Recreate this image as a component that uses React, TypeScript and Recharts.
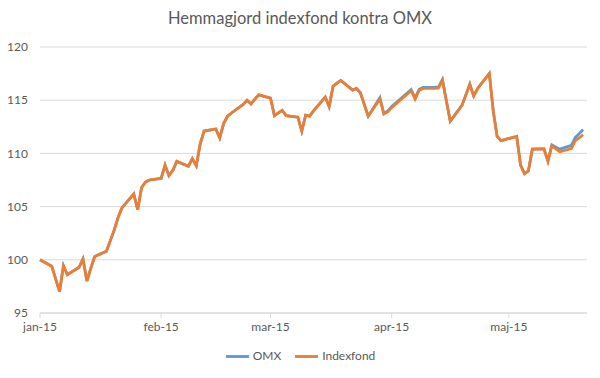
import { CartesianGrid, Legend, Line, LineChart, XAxis, YAxis } from 'recharts';

// Trading days
const dates = [
  '2015-01-02', '2015-01-05', '2015-01-07', '2015-01-08', '2015-01-09', '2015-01-12', '2015-01-13', '2015-01-14',
  '2015-01-15', '2015-01-16', '2015-01-19', '2015-01-20', '2015-01-21', '2015-01-22', '2015-01-23', '2015-01-26',
  '2015-01-27', '2015-01-28', '2015-01-29', '2015-01-30', '2015-02-02', '2015-02-03', '2015-02-04', '2015-02-05',
  '2015-02-06', '2015-02-09', '2015-02-10', '2015-02-11', '2015-02-12', '2015-02-13', '2015-02-16', '2015-02-17',
  '2015-02-18', '2015-02-19', '2015-02-20', '2015-02-23', '2015-02-24', '2015-02-25', '2015-02-26', '2015-02-27',
  '2015-03-02', '2015-03-03', '2015-03-04', '2015-03-05', '2015-03-06', '2015-03-09', '2015-03-10', '2015-03-11',
  '2015-03-12', '2015-03-13', '2015-03-16', '2015-03-17', '2015-03-18', '2015-03-19', '2015-03-20', '2015-03-23',
  '2015-03-24', '2015-03-25', '2015-03-26', '2015-03-27', '2015-03-30', '2015-03-31', '2015-04-01', '2015-04-02',
  '2015-04-07', '2015-04-08', '2015-04-09', '2015-04-10', '2015-04-13', '2015-04-14', '2015-04-15', '2015-04-16',
  '2015-04-17', '2015-04-20', '2015-04-21', '2015-04-22', '2015-04-23', '2015-04-24', '2015-04-27', '2015-04-28',
  '2015-04-29', '2015-04-30', '2015-05-04', '2015-05-05', '2015-05-06', '2015-05-07', '2015-05-08', '2015-05-11',
  '2015-05-12', '2015-05-13', '2015-05-15', '2015-05-18', '2015-05-19', '2015-05-20', '2015-05-21',
];

const omx = [
  100.0, 99.4, 97.0, 99.45, 98.6, 99.3, 100.1, 98.0,
  99.2, 100.3, 100.8, 101.8, 102.8, 104.0, 104.9, 106.2,
  104.7, 106.8, 107.3, 107.5, 107.65, 108.9, 107.9, 108.4,
  109.25, 108.8, 109.5, 108.85, 110.9, 112.1, 112.3, 111.45,
  112.8, 113.5, 113.8, 114.6, 115.0, 114.65, 115.1, 115.5,
  115.2, 113.55, 113.8, 114.05, 113.55, 113.4, 112.1, 113.6,
  113.5, 114.0, 115.3, 114.4, 116.3, 116.6, 116.85, 115.95,
  116.1, 115.7, 114.6, 113.5, 115.25, 113.75, 114.0, 114.4,
  116.0, 115.2, 116.0, 116.2, 116.2, 116.25, 116.95, 115.0,
  113.05, 114.55, 115.5, 116.5, 115.4, 116.1, 117.5, 114.0,
  111.6, 111.2, 111.6, 108.9, 108.1, 108.35, 110.4, 110.45,
  109.3, 110.8, 110.4, 110.75, 111.5, 111.85, 112.25,
];

const indexfond = [
  100.0, 99.4, 97.0, 99.45, 98.6, 99.3, 100.1, 98.0,
  99.2, 100.3, 100.8, 101.8, 102.8, 104.0, 104.9, 106.2,
  104.7, 106.8, 107.3, 107.5, 107.65, 108.9, 107.9, 108.4,
  109.25, 108.8, 109.5, 108.85, 110.9, 112.1, 112.3, 111.45,
  112.8, 113.5, 113.8, 114.6, 115.0, 114.65, 115.1, 115.5,
  115.2, 113.55, 113.8, 114.05, 113.55, 113.4, 112.1, 113.6,
  113.5, 114.0, 115.3, 114.4, 116.3, 116.6, 116.85, 115.95,
  116.1, 115.7, 114.6, 113.5, 115.1, 113.7, 113.9, 114.3,
  115.9, 115.1, 115.9, 116.1, 116.1, 116.15, 116.85, 114.9,
  113.0, 114.5, 115.5, 116.5, 115.4, 116.1, 117.5, 114.0,
  111.6, 111.2, 111.6, 108.9, 108.1, 108.35, 110.4, 110.4,
  109.25, 110.7, 110.15, 110.45, 111.2, 111.45, 111.75,
];

const tickDates = ['2015-01-02', '2015-02-02', '2015-03-02', '2015-04-02', '2015-05-02'];
const tickLabels = ['jan-15', 'feb-15', 'mar-15', 'apr-15', 'maj-15'];
const axisEnd = '2015-05-22';
const yTicks = [95, 100, 105, 110, 115, 120];
const seriesOrder = ['OMX', 'Indexfond'];

const toDay = (s: string) => {
  const [y, m, d] = s.split('-').map(Number);
  return Date.UTC(y, m - 1, d) / 86400000;
};

const data = dates.map((d, i) => ({ day: toDay(d), OMX: omx[i], Indexfond: indexfond[i] }));
const xTicks = tickDates.map(toDay);

const font = 'Lato, "Open Sans", sans-serif';
const textColor = '#595959';

export default function App() {
  return (
    <div style={{ position: 'absolute', left: 0, top: 0, width: 600, height: 378, background: '#fff', fontFamily: font }}>
      <div
        style={{
          position: 'absolute', top: 8, left: 0, width: 600, textAlign: 'center',
          fontSize: 16.5, lineHeight: '20px', color: textColor,
        }}
      >
        Hemmagjord indexfond kontra OMX
      </div>
      <LineChart width={600} height={378} data={data} margin={{ top: 47, right: 13, bottom: 8, left: 0 }}>
        <CartesianGrid vertical={false} stroke="#d9d9d9" />
        <XAxis
          dataKey="day"
          type="number"
          domain={[xTicks[0], toDay(axisEnd)]}
          ticks={xTicks}
          tickFormatter={(v: number) => tickLabels[xTicks.indexOf(v)] ?? ''}
          height={30}
          tickSize={5}
          tickMargin={4}
          stroke="#d9d9d9"
          tick={{ fontSize: 12, fill: textColor }}
        />
        <YAxis
          domain={[95, 120]}
          ticks={yTicks}
          width={40}
          axisLine={false}
          tickLine={false}
          tickSize={0}
          tickMargin={12}
          tick={{ fontSize: 12, fill: textColor }}
        />
        <Legend
          verticalAlign="bottom"
          align="center"
          height={25}
          iconType="plainline"
          iconSize={23}
          itemSorter={(item: any) => seriesOrder.indexOf(item.value)}
          wrapperStyle={{ fontSize: 12, paddingTop: 2, paddingLeft: 14 }}
          formatter={(value: string) => <span style={{ color: textColor, marginRight: 4 }}>{value}</span>}
        />
        <Line type="linear" dataKey="OMX" stroke="#5b9bd5" strokeWidth={2.75} dot={false} isAnimationActive={false} />
        <Line type="linear" dataKey="Indexfond" stroke="#ed7d31" strokeWidth={2.75} dot={false} isAnimationActive={false} />
      </LineChart>
    </div>
  );
}
